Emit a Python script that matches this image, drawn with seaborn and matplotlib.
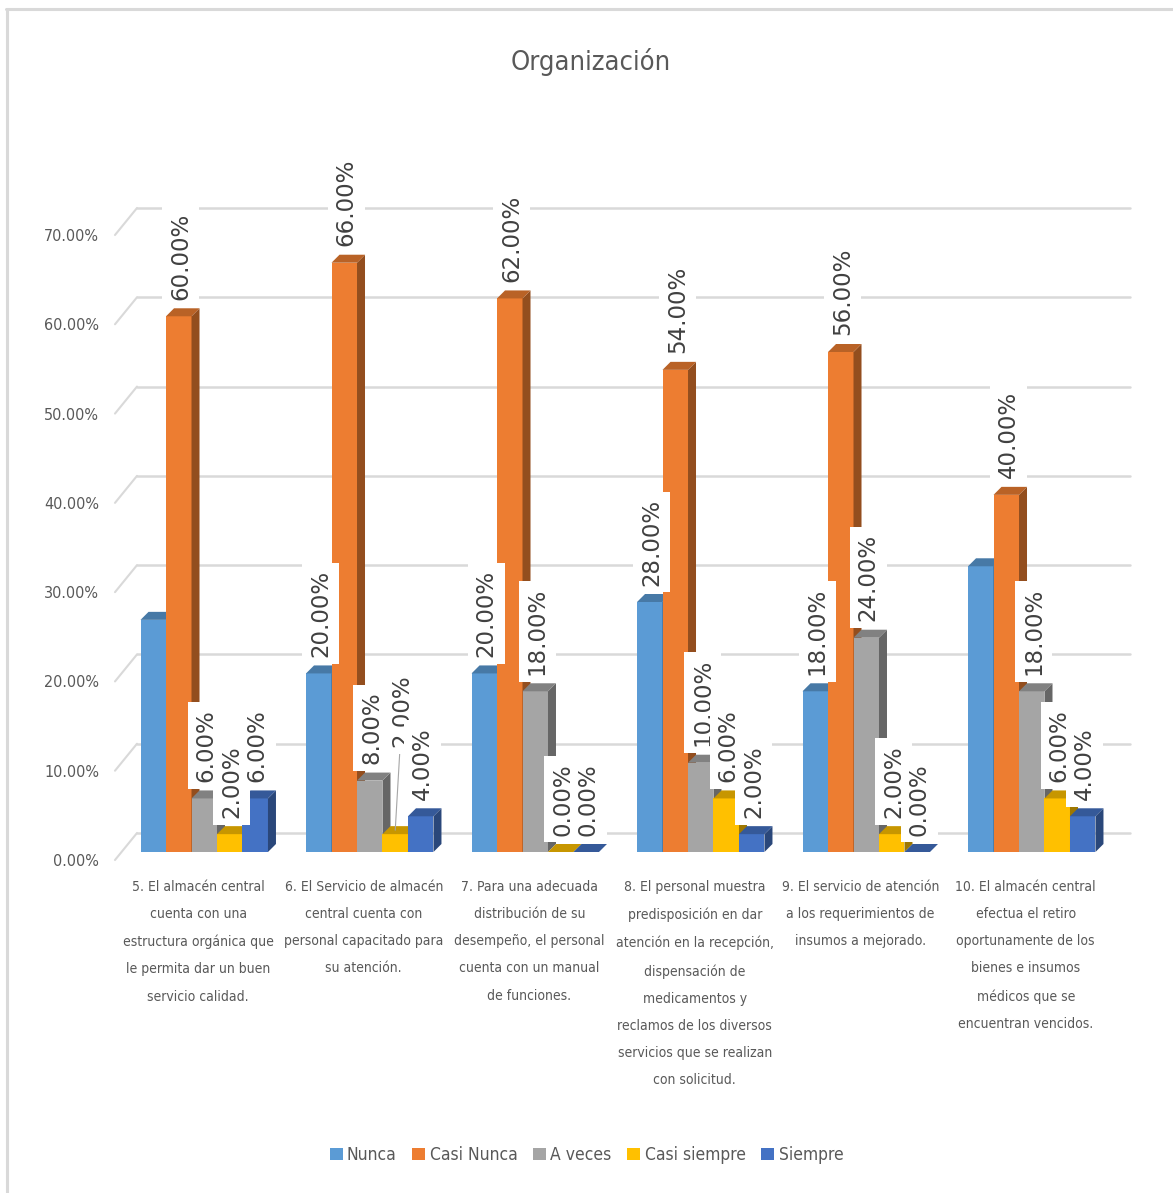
import numpy as np
import pandas as pd
import matplotlib
matplotlib.use("Agg")
import matplotlib.pyplot as plt
import seaborn as sns
from matplotlib import font_manager
from matplotlib.font_manager import FontProperties
from matplotlib.patches import Polygon, Patch
from matplotlib.lines import Line2D
from matplotlib.transforms import ScaledTranslation
from matplotlib.ticker import PercentFormatter
from matplotlib.colors import to_rgb

# datos (porcentajes)
items = [
    "5. El almacén central\ncuenta con una\nestructura orgánica que\nle permita dar un buen\nservicio calidad.",
    "6. El Servicio de almacén\ncentral cuenta con\npersonal capacitado para\nsu atención.",
    "7. Para una adecuada\ndistribución de su\ndesempeño, el personal\ncuenta con un manual\nde funciones.",
    "8. El personal muestra\npredisposición en dar\natención en la recepción,\ndispensación de\nmedicamentos y\nreclamos de los diversos\nservicios que se realizan\ncon solicitud.",
    "9. El servicio de atención\na los requerimientos de\ninsumos a mejorado.",
    "10. El almacén central\nefectua el retiro\noportunamente de los\nbienes e insumos\nmédicos que se\nencuentran vencidos.",
]
series = ["Nunca", "Casi Nunca", "A veces", "Casi siempre", "Siempre"]
nunca = [26, 20, 20, 28, 18, 32]
casi_nunca = [60, 66, 62, 54, 56, 40]
a_veces = [6, 8, 18, 10, 24, 18]
casi_siempre = [2, 2, 0, 6, 2, 6]
siempre = [6, 4, 0, 2, 0, 4]
y_ticks = [0, 0.1, 0.2, 0.3, 0.4, 0.5, 0.6, 0.7]

colors = ["#5B9BD5", "#ED7D31", "#A5A5A5", "#FFC000", "#4472C4"]
text_col = "#595959"

rows = []
for s, vals in zip(series, [nunca, casi_nunca, a_veces, casi_siempre, siempre]):
    for it, v in zip(items, vals):
        rows.append({"item": it, "serie": s, "valor": v / 100})
df = pd.DataFrame(rows)

sns.set_style("white")
plt.rcParams["font.family"] = ["DejaVu Sans"]

# buscar una fuente estrecha (parecida a Calibri del original)
narrow_path = None
for key in ["LiberationSansNarrow-Regular", "DejaVuSansCondensed.ttf", "Condensed-Regular",
            "Narrow-Regular", "Condensed.ttf"]:
    for f in font_manager.fontManager.ttflist:
        if key in f.fname:
            narrow_path = f.fname
            break
    if narrow_path:
        break


def fprop(size):
    if narrow_path:
        return FontProperties(fname=narrow_path, size=size)
    return FontProperties(family="Roboto", size=size * 0.85)


W, H = 1173, 1193
fig = plt.figure(figsize=(W / 100, H / 100), dpi=100)
# plano de las barras en pixeles
x0, x1 = 121.5, 1114.5
ybase, ytop = 852, 227
ax = fig.add_axes([x0 / W, (H - ybase) / H, (x1 - x0) / W, (ybase - ytop) / H])

sns.barplot(data=df, x="item", y="valor", hue="serie", order=items, hue_order=series,
            palette=colors, saturation=1, width=0.77, gap=0, errorbar=None,
            legend=False, ax=ax, edgecolor="none", linewidth=0)
ax.set_xlim(-0.5, 5.5)
ax.set_ylim(0, 0.70)

px_x = 6 / (x1 - x0)
px_y = 0.70 / (ybase - ytop)

# rejilla en el fondo con perspectiva
bdx, bdy = 15.5 * px_x, 19 * px_y
for v in y_ticks:
    ax.plot([-0.5 - 6.5 * px_x, -0.5 + bdx], [v - 8 * px_y, v + bdy],
            color="#D9D9D9", lw=1.5, clip_on=False, zorder=0.5)
    ax.plot([-0.5 + bdx, 5.5 + bdx], [v + bdy, v + bdy],
            color="#D9D9D9", lw=1.8, clip_on=False, zorder=0.5)

# caras laterales y superiores (3D)
ddx, ddy = 8 * px_x, 8 * px_y
bars = sorted([p for p in ax.patches if p.get_width() > 0], key=lambda p: p.get_x())
for k, p in enumerate(bars):
    x, w, h = p.get_x(), p.get_width(), p.get_height()
    base = np.array(to_rgb(p.get_facecolor()))
    z = 2 + k * 0.01
    p.set_zorder(z)
    side = Polygon([(x + w, 0), (x + w + ddx, ddy), (x + w + ddx, h + ddy), (x + w, h)],
                   closed=True, facecolor=base * 0.62, edgecolor="none", zorder=z + 0.005,
                   clip_on=False)
    top = Polygon([(x, h), (x + ddx, h + ddy), (x + w + ddx, h + ddy), (x + w, h)],
                  closed=True, facecolor=base * 0.78, edgecolor="none", zorder=z + 0.005,
                  clip_on=False)
    ax.add_patch(side)
    ax.add_patch(top)

# etiquetas de datos (las de "Nunca" en 5 y 10 no aparecen en el original)
hidden = {0 * 5 + 0, 5 * 5 + 0}
moved = 1 * 5 + 3
for k, p in enumerate(bars):
    if k in hidden:
        continue
    x, w, h = p.get_x(), p.get_width(), p.get_height()
    cx = x + w / 2
    dx_pt, dy_pt = 1.5, 9
    arrow = None
    if k == moved:
        dx_pt, dy_pt = 5, 60
        arrow = dict(arrowstyle="-", color="#A6A6A6", lw=0.8, shrinkA=0, shrinkB=0)
    ax.annotate(f"{h * 100:.2f}%", xy=(cx, h + ddy / 2), xytext=(dx_pt, dy_pt),
                textcoords="offset points", rotation=90, ha="center", va="bottom",
                fontsize=16.5, family="DejaVu Sans", color="#404040",
                bbox=dict(boxstyle="square,pad=0.3", fc="white", ec="none"),
                arrowprops=arrow, zorder=10 + k * 0.01, annotation_clip=False)

# ejes
for sp in ax.spines.values():
    sp.set_visible(False)
ax.set_xlabel("")
ax.set_ylabel("")
ax.set_yticks(y_ticks)
ax.yaxis.set_major_formatter(PercentFormatter(1, decimals=2))
ax.tick_params(axis="y", length=0, pad=16, labelcolor=text_col)
for lab in ax.get_yticklabels():
    lab.set_fontproperties(fprop(11.5))
    lab.set_transform(lab.get_transform() + ScaledTranslation(0, -8 / 100, fig.dpi_scale_trans))
ax.set_xticks(range(len(items)))
ax.set_xticklabels(items)
ax.tick_params(axis="x", length=0, pad=20, labelcolor=text_col)
for lab in ax.get_xticklabels():
    lab.set_fontproperties(fprop(10))
    lab.set_linespacing(2.2)
    lab.set_multialignment("center")
    lab.set_transform(lab.get_transform() + ScaledTranslation(-6 / 100, 0, fig.dpi_scale_trans))

fig.text(591 / W, 1 - 62 / H, "Organización", ha="center", va="center",
         fontproperties=fprop(19.5), color=text_col)

handles = [Patch(facecolor=c, edgecolor="none") for c in colors]
fig.legend(handles, series, loc="center", bbox_to_anchor=(0.5, 1 - 1155 / H), ncol=5,
           frameon=False, handlelength=0.75, handleheight=0.75, handletextpad=0.25,
           columnspacing=0.9, prop=fprop(12.5), labelcolor=text_col)

# marco del gráfico
fig.add_artist(Line2D([6 / W, 1], [1 - 9 / H, 1 - 9 / H], color="#D9D9D9", lw=2.2,
                      transform=fig.transFigure))
fig.add_artist(Line2D([7 / W, 7 / W], [0, 1 - 9 / H], color="#D9D9D9", lw=2.2,
                      transform=fig.transFigure))

fig.savefig("out.png", dpi=100, facecolor="white")
